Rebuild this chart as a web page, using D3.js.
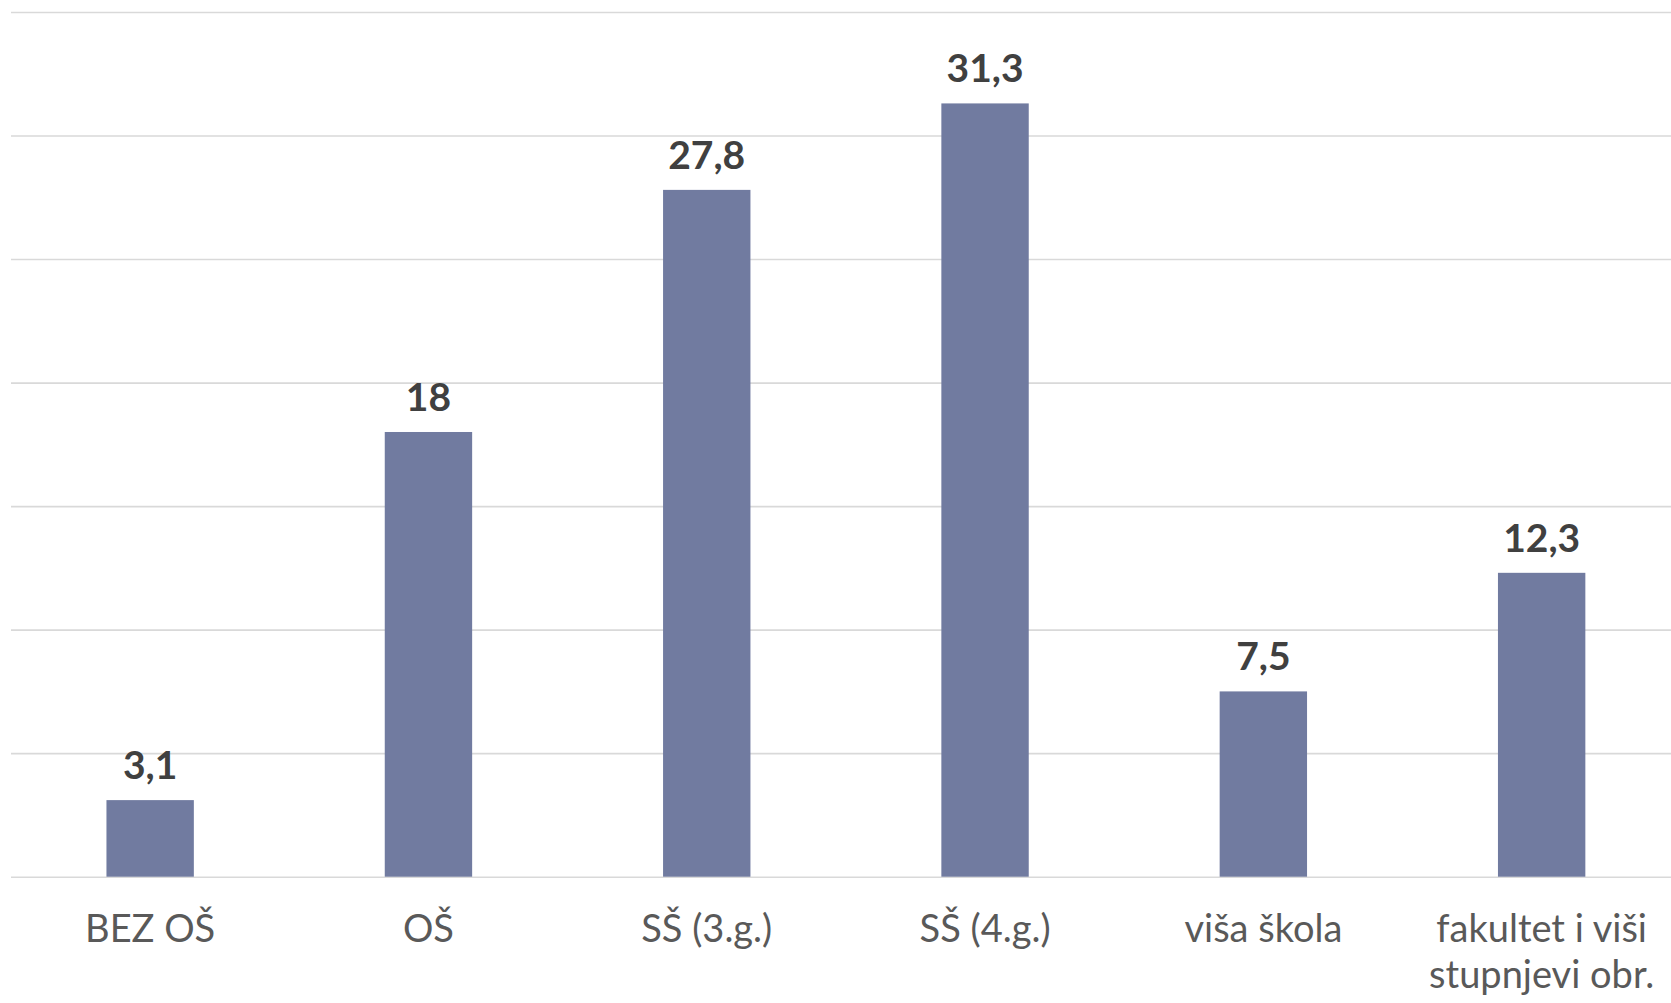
<!DOCTYPE html>
<html>
<head>
<meta charset="utf-8">
<script src="https://cdnjs.cloudflare.com/ajax/libs/d3/7.8.5/d3.min.js"></script>
<style>
	body {
	  margin: 0;
	  background: #fff;
	}
	svg text {
	  font-family: "Lato", "Open Sans", sans-serif;
	}
</style>
</head>
<body>
<svg width="1671" height="1003"></svg>
<script>
	var categories = ["BEZ OŠ", "OŠ", "SŠ (3.g.)", "SŠ (4.g.)", "viša škola", "fakultet i viši stupnjevi obr."];
	var values = [3.1, 18, 27.8, 31.3, 7.5, 12.3];
	var yTicks = [0, 5, 10, 15, 20, 25, 30, 35];

	var svg = d3.select("svg");
	var w = 1671,
		h = 1003,
		padLeft = 11,
		step = 278.3,
		baseY = 876.7,
		topY = 12;

	var x = d3.scaleBand()
		.domain(categories)
		.range([padLeft, padLeft + step * categories.length]);

	var y = d3.scaleLinear()
		.domain([0, 35])
		.range([baseY, topY]);

	// gridlines
	svg.append("g")
		.attr("transform", "translate(" + padLeft + ",0)")
		.call(d3.axisLeft(y).tickValues(yTicks).tickSize(-(w - padLeft)).tickFormat(""))
		.call(function(g){ g.select(".domain").remove(); })
		.selectAll("line")
		.attr("stroke", "#d9d9d9")
		.attr("stroke-width", 1.6);

	var bw = x.bandwidth() * 0.314;

	svg.append("g").selectAll("rect")
		.data(values)
		.enter().append("rect")
		.attr("x", function(d, i){ return x(categories[i]) + x.bandwidth() / 2 - bw / 2; })
		.attr("y", function(d){ return y(d); })
		.attr("width", bw)
		.attr("height", function(d){ return y(0) - y(d); })
		.attr("fill", "#717ba0");

	// value labels
	svg.append("g").selectAll("text")
		.data(values)
		.enter().append("text")
		.attr("x", function(d, i){ return x(categories[i]) + x.bandwidth() / 2; })
		.attr("y", function(d){ return y(d) - 21; })
		.attr("text-anchor", "middle")
		.attr("font-size", 39)
		.attr("font-weight", "bold")
		.attr("fill", "#404040")
		.text(function(d){ return String(d).replace(".", ","); });

	// category labels
	var xAxis = svg.append("g")
		.attr("transform", "translate(0," + baseY + ")")
		.call(d3.axisBottom(x).tickSize(0).tickPadding(38));
	xAxis.select(".domain").remove();
	xAxis.selectAll("text")
		.attr("font-size", 38)
		.attr("fill", "#595959")
		.call(wrap, 270);

	function wrap(text, width) {
		text.each(function() {
			var t = d3.select(this),
				words = t.text().split(/\s+/).reverse(),
				word, line = [], lineNumber = 0,
				yy = t.attr("y"), dy = parseFloat(t.attr("dy")),
				tspan = t.text(null).append("tspan").attr("x", 0).attr("y", yy).attr("dy", dy + "em");
			while (word = words.pop()) {
				line.push(word);
				tspan.text(line.join(" "));
				if (tspan.node().getComputedTextLength() > width && line.length > 1) {
					line.pop();
					tspan.text(line.join(" "));
					line = [word];
					tspan = t.append("tspan").attr("x", 0).attr("y", yy)
						.attr("dy", (++lineNumber * 1.23 + dy) + "em").text(word);
				}
			}
		});
	}
</script>
</body>
</html>
